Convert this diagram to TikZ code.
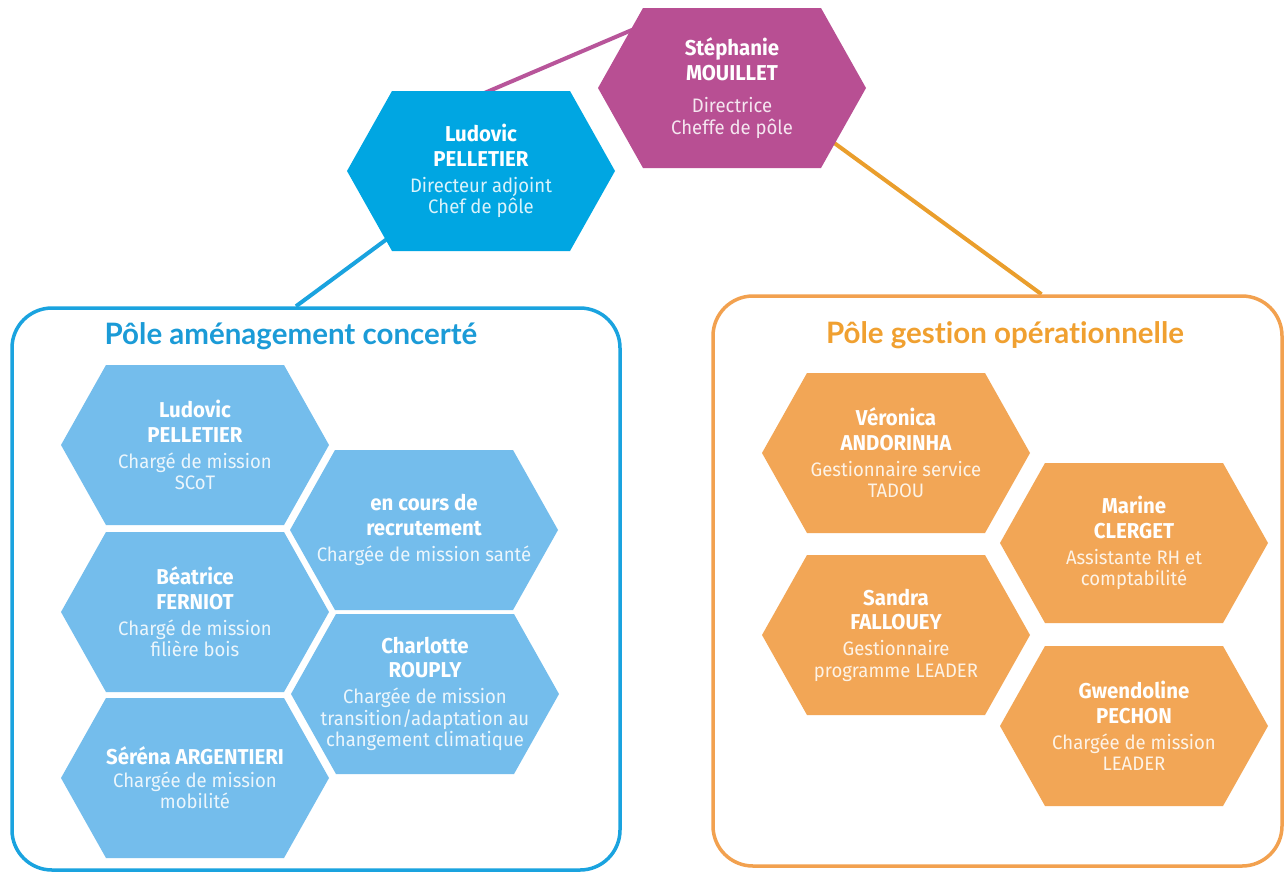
\documentclass[tikz,border=0pt]{standalone}
\usepackage{fontspec}
\setmainfont{Fira Sans}
\newfontfamily\hexfont[FakeStretch=0.95]{Fira Sans}
\newfontfamily\titlefont[Ligatures=NoCommon]{Lato}
\usetikzlibrary{backgrounds}

\definecolor{magentaHex}{HTML}{B84F93}
\definecolor{blueHex}{HTML}{00A6E2}
\definecolor{lightBlueHex}{HTML}{74BDEC}
\definecolor{orangeHex}{HTML}{F2A656}
\definecolor{magentaLine}{HTML}{B8559A}
\definecolor{blueLine}{HTML}{1AA3DF}
\definecolor{orangeLine}{HTML}{F2A14F}
\definecolor{orangeLink}{HTML}{EA9E2C}
\definecolor{titleBlue}{HTML}{1B9BD7}
\definecolor{titleOrange}{HTML}{F0A030}

% name lines (bold) and function lines of a hexagon
\newcommand\nm[1]{{\bfseries\fontsize{21.5}{24}\selectfont #1}}
\newcommand\ds[1]{{\color{desccol}#1}}

\tikzset{
  hexagon/.style={minimum width=268pt, minimum height=160pt, inner sep=0pt,
    align=center, text=white,
    font=\hexfont\fontsize{19.5}{21.5}\selectfont,
    execute at begin node={\colorlet{desccol}{white!86!#1}},
    path picture={\fill[#1]
      ([xshift=45pt]path picture bounding box.north west) --
      ([xshift=-45pt]path picture bounding box.north east) --
      (path picture bounding box.east) --
      ([xshift=-45pt]path picture bounding box.south east) --
      ([xshift=45pt]path picture bounding box.south west) --
      (path picture bounding box.west) -- cycle;}},
  polebox/.style={draw=#1, line width=3.5pt, rounded corners=40pt, inner sep=0pt},
  poletitle/.style={text=#1, font=\titlefont\bfseries\fontsize{29.5}{32}\selectfont},
  link/.style={draw=#1, line width=4pt}
}

\begin{document}
\begin{tikzpicture}[x=1pt, y=-1pt]
\begin{scope}[on background layer]
  \fill[white] (0,0) rectangle (1285,871);
\end{scope}
\useasboundingbox (0,0) rectangle (1285,871);

% direction
\node[hexagon=magentaHex] (steph) at (732,88)
  {\nm{Stéphanie}\\[3pt]\nm{MOUILLET}\\[11pt]\ds{Directrice}\\\ds{Cheffe de pôle}};
\node[hexagon=blueHex] (ludoTop) at (481,171)
  {\nm{Ludovic}\\[3pt]\nm{PELLETIER}\\[4.5pt]\ds{Directeur adjoint}\\\ds{Chef de pôle}};

% pôle aménagement concerté
\node[polebox=blueLine, minimum width=608pt, minimum height=562pt] (pacBox) at (316,589) {};
\node[poletitle=titleBlue] (pacTitle) at (291,336) {Pôle aménagement concerté};
\node[hexagon=lightBlueHex] (pelletier) at (195,445)
  {\nm{Ludovic}\\[3pt]\nm{PELLETIER}\\[4.5pt]\ds{Chargé de mission}\\\ds{SCoT}};
\node[hexagon=lightBlueHex] (recrutement) at (424,530)
  {\nm{en cours de}\\[3pt]\nm{recrutement}\\[4.5pt]\ds{Chargée de mission santé}};
\node[hexagon=lightBlueHex] (ferniot) at (195,612)
  {\nm{Béatrice}\\[3pt]\nm{FERNIOT}\\[4.5pt]\ds{Chargé de mission}\\\ds{filière bois}};
\node[hexagon=lightBlueHex] (rouply) at (425,694)
  {\nm{Charlotte}\\[3pt]\nm{ROUPLY}\\[4.5pt]\ds{Chargée de mission}\\\ds{transition/adaptation au}\\\ds{changement climatique}};
\node[hexagon=lightBlueHex] (argentieri) at (195,778)
  {\nm{Séréna ARGENTIERI}\\[1pt]\ds{Chargée de mission}\\\ds{mobilité}};

% pôle gestion opérationnelle
\node[polebox=orangeLine, minimum width=569pt, minimum height=570pt] (pgoBox) at (997.5,581) {};
\node[poletitle=titleOrange] (pgoTitle) at (1005,335) {Pôle gestion opérationnelle};
\node[hexagon=orangeHex] (andorinha) at (896,453)
  {\nm{Véronica}\\[3pt]\nm{ANDORINHA}\\[4.5pt]\ds{Gestionnaire service}\\\ds{TADOU}};
\node[hexagon=orangeHex] (clerget) at (1134,543)
  {\nm{Marine}\\[3pt]\nm{CLERGET}\\[4.5pt]\ds{Assistante RH et}\\\ds{comptabilité}};
\node[hexagon=orangeHex] (fallouey) at (896,635)
  {\nm{Sandra}\\[3pt]\nm{FALLOUEY}\\[4.5pt]\ds{Gestionnaire}\\\ds{programme LEADER}};
\node[hexagon=orangeHex] (pechon) at (1134,726)
  {\nm{Gwendoline}\\[3pt]\nm{PECHON}\\[4.5pt]\ds{Chargée de mission}\\\ds{LEADER}};

% links between the boxes, behind the hexagons
\begin{scope}[on background layer]
  \draw[link=magentaLine] ([xshift=-13pt,yshift=71pt]ludoTop.center) -- ([xshift=-72pt,yshift=70pt]steph.center);
  \draw[link=blueLine] ([xshift=-71pt,yshift=-51pt]ludoTop.center) -- ([xshift=-20pt]pacBox.north);
  \draw[link=orangeLink] ([xshift=68pt,yshift=-30pt]steph.center) -- ([xshift=44pt]pgoBox.north);
\end{scope}
\end{tikzpicture}
\end{document}
